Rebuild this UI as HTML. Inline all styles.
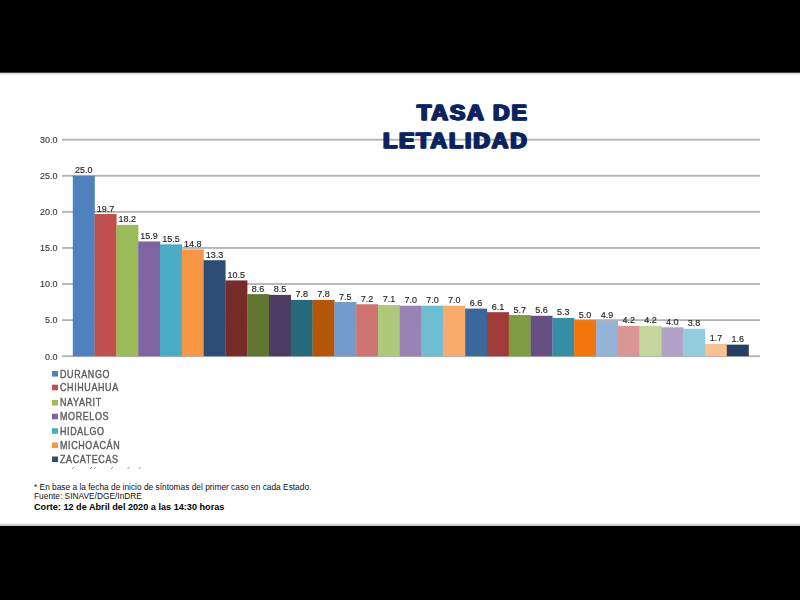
<!DOCTYPE html>
<html><head><meta charset="utf-8"><title>Tasa de letalidad</title>
<style>
html,body{margin:0;padding:0;background:#000;}
body{width:800px;height:600px;position:relative;overflow:hidden;font-family:"Liberation Sans",sans-serif;}
svg text{font-family:"Liberation Sans",sans-serif;}
.ax{font-size:9px;fill:#3c3c3c;stroke:#3c3c3c;stroke-width:0.15px;}
.dl{font-size:9px;fill:#262626;stroke:#262626;stroke-width:0.15px;}
.lg{font-size:10px;fill:#5e5e5e;letter-spacing:0.7px;stroke:#5e5e5e;stroke-width:0.4px;}
#chart{filter:blur(0.4px);}
#legend{filter:blur(0.35px);}
.tt text{font-size:22.9px;font-weight:bold;fill:#0b2460;stroke:#0b2460;stroke-width:0.8px;letter-spacing:1.96px;}
.ft{font-size:8.35px;fill:#111;}
.fb{font-size:9.15px;fill:#000;font-weight:bold;}
</style></head><body>
<svg width="800" height="600" viewBox="0 0 800 600" style="position:absolute;left:0;top:0">
<rect x="0" y="0" width="800" height="600" fill="#000"/>
<rect x="0" y="73" width="800" height="453" fill="#fff"/>
<rect x="0" y="72" width="800" height="1" fill="#454545"/><rect x="0" y="73" width="800" height="1" fill="#d9d9d9"/><rect x="0" y="74" width="800" height="1" fill="#f1f1f1"/>
<rect x="0" y="524" width="800" height="2" fill="#cfcfcf"/><rect x="0" y="523.2" width="800" height="0.8" fill="#f0f0f0"/>
<g id="chart">
<rect x="62" y="355.30" width="698" height="1.8" fill="#b2b2b2"/>
<text x="57.6" y="359.50" text-anchor="end" class="ax">0.0</text>
<rect x="62" y="319.22" width="698" height="1.8" fill="#b2b2b2"/>
<text x="57.6" y="323.42" text-anchor="end" class="ax">5.0</text>
<rect x="62" y="283.13" width="698" height="1.8" fill="#b2b2b2"/>
<text x="57.6" y="287.33" text-anchor="end" class="ax">10.0</text>
<rect x="62" y="247.05" width="698" height="1.8" fill="#b2b2b2"/>
<text x="57.6" y="251.25" text-anchor="end" class="ax">15.0</text>
<rect x="62" y="210.97" width="698" height="1.8" fill="#b2b2b2"/>
<text x="57.6" y="215.17" text-anchor="end" class="ax">20.0</text>
<rect x="62" y="174.88" width="698" height="1.8" fill="#b2b2b2"/>
<text x="57.6" y="179.08" text-anchor="end" class="ax">25.0</text>
<rect x="62" y="138.80" width="698" height="1.8" fill="#b2b2b2"/>
<text x="57.6" y="143.00" text-anchor="end" class="ax">30.0</text>
<rect x="72.80" y="175.78" width="22.00" height="180.42" fill="#4F81BD"/>
<text x="83.70" y="173.28" text-anchor="middle" class="dl">25.0</text>
<rect x="94.60" y="214.03" width="22.00" height="142.17" fill="#C0504D"/>
<text x="105.50" y="211.53" text-anchor="middle" class="dl">19.7</text>
<rect x="116.40" y="224.86" width="22.00" height="131.34" fill="#9BBB59"/>
<text x="127.30" y="222.36" text-anchor="middle" class="dl">18.2</text>
<rect x="138.20" y="241.45" width="22.00" height="114.75" fill="#8064A2"/>
<text x="149.10" y="238.95" text-anchor="middle" class="dl">15.9</text>
<rect x="160.00" y="244.34" width="22.00" height="111.86" fill="#4BACC6"/>
<text x="170.90" y="241.84" text-anchor="middle" class="dl">15.5</text>
<rect x="181.80" y="249.39" width="22.00" height="106.81" fill="#F79646"/>
<text x="192.70" y="246.89" text-anchor="middle" class="dl">14.8</text>
<rect x="203.60" y="260.22" width="22.00" height="95.98" fill="#2C4D75"/>
<text x="214.50" y="257.72" text-anchor="middle" class="dl">13.3</text>
<rect x="225.40" y="280.42" width="22.00" height="75.78" fill="#772C2A"/>
<text x="236.30" y="277.92" text-anchor="middle" class="dl">10.5</text>
<rect x="247.20" y="294.14" width="22.00" height="62.06" fill="#5F7530"/>
<text x="258.10" y="291.64" text-anchor="middle" class="dl">8.6</text>
<rect x="269.00" y="294.86" width="22.00" height="61.34" fill="#4D3B62"/>
<text x="279.90" y="292.36" text-anchor="middle" class="dl">8.5</text>
<rect x="290.80" y="299.91" width="22.00" height="56.29" fill="#276A7C"/>
<text x="301.70" y="297.41" text-anchor="middle" class="dl">7.8</text>
<rect x="312.60" y="299.91" width="22.00" height="56.29" fill="#B65708"/>
<text x="323.50" y="297.41" text-anchor="middle" class="dl">7.8</text>
<rect x="334.40" y="302.07" width="22.00" height="54.12" fill="#729ACA"/>
<text x="345.30" y="299.57" text-anchor="middle" class="dl">7.5</text>
<rect x="356.20" y="304.24" width="22.00" height="51.96" fill="#CD7371"/>
<text x="367.10" y="301.74" text-anchor="middle" class="dl">7.2</text>
<rect x="378.00" y="304.96" width="22.00" height="51.24" fill="#AFC97A"/>
<text x="388.90" y="302.46" text-anchor="middle" class="dl">7.1</text>
<rect x="399.80" y="305.68" width="22.00" height="50.52" fill="#9983B5"/>
<text x="410.70" y="303.18" text-anchor="middle" class="dl">7.0</text>
<rect x="421.60" y="305.68" width="22.00" height="50.52" fill="#6FBDD1"/>
<text x="432.50" y="303.18" text-anchor="middle" class="dl">7.0</text>
<rect x="443.40" y="305.68" width="22.00" height="50.52" fill="#F9AB6B"/>
<text x="454.30" y="303.18" text-anchor="middle" class="dl">7.0</text>
<rect x="465.20" y="308.57" width="22.00" height="47.63" fill="#3A679C"/>
<text x="476.10" y="306.07" text-anchor="middle" class="dl">6.6</text>
<rect x="487.00" y="312.18" width="22.00" height="44.02" fill="#9F3B38"/>
<text x="497.90" y="309.68" text-anchor="middle" class="dl">6.1</text>
<rect x="508.80" y="315.06" width="22.00" height="41.14" fill="#7E9D40"/>
<text x="519.70" y="312.56" text-anchor="middle" class="dl">5.7</text>
<rect x="530.60" y="315.79" width="22.00" height="40.41" fill="#664F83"/>
<text x="541.50" y="313.29" text-anchor="middle" class="dl">5.6</text>
<rect x="552.40" y="317.95" width="22.00" height="38.25" fill="#358EA6"/>
<text x="563.30" y="315.45" text-anchor="middle" class="dl">5.3</text>
<rect x="574.20" y="320.12" width="22.00" height="36.08" fill="#F3740B"/>
<text x="585.10" y="317.62" text-anchor="middle" class="dl">5.0</text>
<rect x="596.00" y="320.84" width="22.00" height="35.36" fill="#95B3D7"/>
<text x="606.90" y="318.34" text-anchor="middle" class="dl">4.9</text>
<rect x="617.80" y="325.89" width="22.00" height="30.31" fill="#D99694"/>
<text x="628.70" y="323.39" text-anchor="middle" class="dl">4.2</text>
<rect x="639.60" y="325.89" width="22.00" height="30.31" fill="#C3D69B"/>
<text x="650.50" y="323.39" text-anchor="middle" class="dl">4.2</text>
<rect x="661.40" y="327.33" width="22.00" height="28.87" fill="#B3A2C7"/>
<text x="672.30" y="324.83" text-anchor="middle" class="dl">4.0</text>
<rect x="683.20" y="328.78" width="22.00" height="27.42" fill="#93CDDD"/>
<text x="694.10" y="326.28" text-anchor="middle" class="dl">3.8</text>
<rect x="705.00" y="343.93" width="22.00" height="12.27" fill="#FAC090"/>
<text x="715.90" y="341.43" text-anchor="middle" class="dl">1.7</text>
<rect x="726.80" y="344.65" width="22.00" height="11.55" fill="#254061"/>
<text x="737.70" y="342.15" text-anchor="middle" class="dl">1.6</text>
</g>
<g id="legend">
<rect x="52" y="371.00" width="6" height="5.6" fill="#4F81BD"/>
<text transform="translate(60,377.50) scale(0.895,1)" class="lg">DURANGO</text>
<rect x="52" y="384.70" width="6" height="5.6" fill="#C0504D"/>
<text transform="translate(60,391.20) scale(0.895,1)" class="lg">CHIHUAHUA</text>
<rect x="52" y="399.90" width="6" height="5.6" fill="#9BBB59"/>
<text transform="translate(60,406.40) scale(0.895,1)" class="lg">NAYARIT</text>
<rect x="52" y="413.70" width="6" height="5.6" fill="#8064A2"/>
<text transform="translate(60,420.20) scale(0.895,1)" class="lg">MORELOS</text>
<rect x="52" y="428.20" width="6" height="5.6" fill="#4BACC6"/>
<text transform="translate(60,434.70) scale(0.895,1)" class="lg">HIDALGO</text>
<rect x="52" y="442.50" width="6" height="5.6" fill="#F79646"/>
<text transform="translate(60,449.00) scale(0.895,1)" class="lg">MICHOACÁN</text>
<rect x="52" y="456.50" width="6" height="5.6" fill="#2C4D75"/>
<text transform="translate(60,463.00) scale(0.895,1)" class="lg">ZACATECAS</text>
<line x1="72" y1="469" x2="74" y2="467" stroke="#8a8a8a" stroke-width="0.9"/>
<line x1="90" y1="469" x2="92" y2="467" stroke="#8a8a8a" stroke-width="0.9"/>
<line x1="93.7" y1="469" x2="95.7" y2="467" stroke="#8a8a8a" stroke-width="0.9"/>
<line x1="111" y1="469" x2="113" y2="467" stroke="#8a8a8a" stroke-width="0.9"/>
<line x1="127.5" y1="469" x2="129.5" y2="467" stroke="#8a8a8a" stroke-width="0.9"/>
<line x1="138.7" y1="469" x2="140.7" y2="467" stroke="#8a8a8a" stroke-width="0.9"/>
</g>
<g class="tt">
<text transform="translate(528.00,120.1) scale(1.0,1)" text-anchor="end">TASA DE</text>
<text transform="translate(528.00,148.1) scale(1.0,1)" text-anchor="end">LETALIDAD</text>
<text transform="translate(528.80,120.1) scale(1.0,1)" text-anchor="end">TASA DE</text>
<text transform="translate(528.80,148.1) scale(1.0,1)" text-anchor="end">LETALIDAD</text>
<text transform="translate(529.60,120.1) scale(1.0,1)" text-anchor="end">TASA DE</text>
<text transform="translate(529.60,148.1) scale(1.0,1)" text-anchor="end">LETALIDAD</text>
</g>
<text x="34" y="489.5" class="ft">* En base a la fecha de inicio de síntomas del primer caso en cada Estado.</text>
<text x="34" y="499.2" class="ft">Fuente: SINAVE/DGE/InDRE</text>
<text x="34" y="510" class="fb">Corte: 12 de Abril del 2020 a las 14:30 horas</text>
</svg>
</body></html>
